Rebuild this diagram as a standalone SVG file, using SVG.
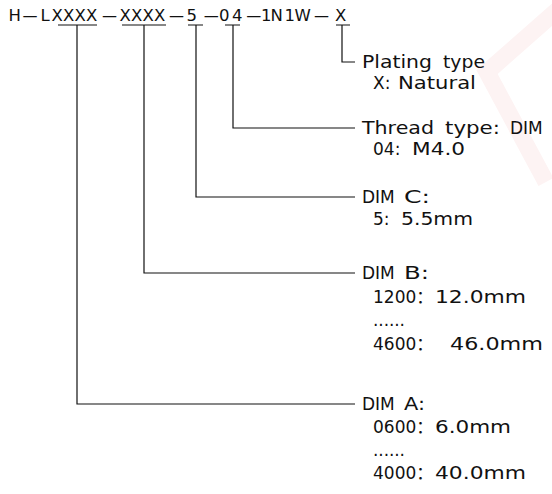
<svg xmlns="http://www.w3.org/2000/svg" width="552" height="494" viewBox="0 0 552 494">
<style>
text{font-family:"DejaVu Sans","Noto Sans CJK SC",sans-serif;font-size:17px;fill:#111}
#code text{font-size:16.5px}
.c{fill:none;stroke:#111;stroke-width:1.2}
</style>
<rect width="552" height="494" fill="#fff"/>
<polyline points="562,6 487,72 546,182" fill="none" stroke="#fdf3f3" stroke-width="17"/>
<g id="code">
<text y="21"><tspan x="8.5">H</tspan><tspan x="20.7" textLength="18.6" lengthAdjust="spacingAndGlyphs">-</tspan><tspan x="40.5 51.5 63 74.5 86">LXXXX</tspan><tspan x="100.2" textLength="18.6" lengthAdjust="spacingAndGlyphs">-</tspan><tspan x="119.5 131 142.5 154">XXXX</tspan><tspan x="167.2" textLength="18.6" lengthAdjust="spacingAndGlyphs">-</tspan><tspan x="186.5">5</tspan><tspan x="202" textLength="18.6" lengthAdjust="spacingAndGlyphs">-</tspan><tspan x="219 232">04</tspan><tspan x="244.5" textLength="18.6" lengthAdjust="spacingAndGlyphs">-</tspan><tspan x="261 270.5 284.5 294.5">1N1W</tspan><tspan x="312.2" textLength="18.6" lengthAdjust="spacingAndGlyphs">-</tspan><tspan x="335">X</tspan></text>
</g>
<g id="connectors">
<path class="c" d="M58,25H97M77,25V404H355"/>
<path class="c" d="M122,25H166M144,25V273H355"/>
<path class="c" d="M188,25H203M196,25V197H355"/>
<path class="c" d="M225,25H240M233,25V128H355"/>
<path class="c" d="M336,25H350M342,25V62H355"/>
</g>
<g id="plating">
<text y="68"><tspan x="362" textLength="70" lengthAdjust="spacingAndGlyphs">Plating</tspan> <tspan x="443" textLength="42" lengthAdjust="spacingAndGlyphs">type</tspan></text>
<text y="89"><tspan x="373">X:</tspan> <tspan x="398" textLength="78" lengthAdjust="spacingAndGlyphs">Natural</tspan></text>
</g>
<g id="thread">
<text y="134"><tspan x="362" textLength="72" lengthAdjust="spacingAndGlyphs">Thread</tspan> <tspan x="445" textLength="55" lengthAdjust="spacingAndGlyphs">type:</tspan> <tspan x="510">DIM</tspan></text>
<text y="155"><tspan x="373">04:</tspan> <tspan x="412" textLength="53" lengthAdjust="spacingAndGlyphs">M4.0</tspan></text>
</g>
<g id="dimC">
<text y="203"><tspan x="362">DIM</tspan> <tspan x="404" textLength="26" lengthAdjust="spacingAndGlyphs">C:</tspan></text>
<text y="225"><tspan x="373">5:</tspan> <tspan x="401" textLength="72" lengthAdjust="spacingAndGlyphs">5.5mm</tspan></text>
</g>
<g id="dimB">
<text y="279"><tspan x="362">DIM</tspan> <tspan x="404" textLength="25" lengthAdjust="spacingAndGlyphs">B:</tspan></text>
<text y="303"><tspan x="373">1200：</tspan><tspan x="435" textLength="91" lengthAdjust="spacingAndGlyphs">12.0mm</tspan></text>
<text x="373" y="326" textLength="32" lengthAdjust="spacing">......</text>
<text y="350"><tspan x="373">4600：</tspan> <tspan x="450" textLength="93" lengthAdjust="spacingAndGlyphs">46.0mm</tspan></text>
</g>
<g id="dimA">
<text y="410"><tspan x="362">DIM</tspan> <tspan x="404" textLength="21" lengthAdjust="spacingAndGlyphs">A:</tspan></text>
<text y="433"><tspan x="373">0600：</tspan><tspan x="435" textLength="76" lengthAdjust="spacingAndGlyphs">6.0mm</tspan></text>
<text x="373" y="456" textLength="32" lengthAdjust="spacing">......</text>
<text y="479"><tspan x="373">4000：</tspan><tspan x="435" textLength="91" lengthAdjust="spacingAndGlyphs">40.0mm</tspan></text>
</g>
</svg>
